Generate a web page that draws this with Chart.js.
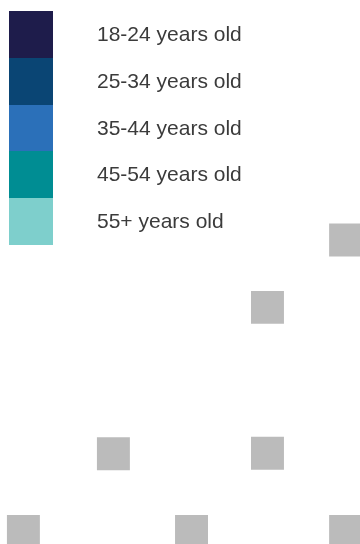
<!DOCTYPE html>
<html>
<head>
<meta charset="utf-8">
<script src="https://cdn.jsdelivr.net/npm/chart.js@4.4.0/dist/chart.umd.min.js"></script>
<style>
  html, body { margin: 0; padding: 0; background: #ffffff; }
  #wrap { width: 360px; height: 544px; }
</style>
</head>
<body>
<div id="wrap"><canvas id="myChart" width="360" height="544"></canvas></div>
<script>
// age groups shown in the key
var ageGroups = ["18-24 years old", "25-34 years old", "35-44 years old", "45-54 years old", "55+ years old"];
var ageColors = ["#1e1c4b", "#0a4574", "#2b70b9", "#008d93", "#7ecfcc"];

// grey markers (x, y in percent of the plot)
var markX = [96.0, 74.3, 31.5, 74.3, 6.5, 53.2, 96.0];
var markY = [55.9, 43.5, 16.6, 16.7, 2.3, 2.3, 2.3];
var markColor = "#bbbbbb";

var points = markX.map(function (x, i) { return { x: x, y: markY[i] }; });

// key drawn as one stacked column of swatches with labels beside it
var ageKey = {
  id: "ageKey",
  afterDraw: function (chart) {
    var ctx = chart.ctx;
    var left = 9, top = 11, boxW = 44, boxH = 46.8, textX = 97;
    ctx.save();
    ctx.font = "21px 'Liberation Sans', Arial, sans-serif";
    ctx.textBaseline = "alphabetic";
    ctx.textAlign = "left";
    ageGroups.forEach(function (label, i) {
      var y0 = top + i * boxH;
      ctx.fillStyle = ageColors[i];
      ctx.fillRect(left, Math.round(y0), boxW, Math.round(y0 + boxH) - Math.round(y0));
      ctx.fillStyle = "#3b3b3b";
      ctx.fillText(label, textX, y0 + 30);
    });
    ctx.restore();
  }
};

new Chart("myChart", {
  type: "scatter",
  data: {
    datasets: [{
      label: "Other",
      data: points,
      pointStyle: "rect",
      pointRadius: 23.3,
      pointHoverRadius: 23.3,
      pointBorderWidth: 0,
      backgroundColor: markColor,
      borderColor: markColor,
      clip: false
    }]
  },
  options: {
    responsive: false,
    animation: false,
    layout: { padding: 0, autoPadding: false },
    plugins: {
      legend: { display: false },
      tooltip: { enabled: false }
    },
    scales: {
      x: { type: "linear", min: 0, max: 100, display: false },
      y: { type: "linear", min: 0, max: 100, display: false }
    }
  },
  plugins: [ageKey]
});
</script>
</body>
</html>
